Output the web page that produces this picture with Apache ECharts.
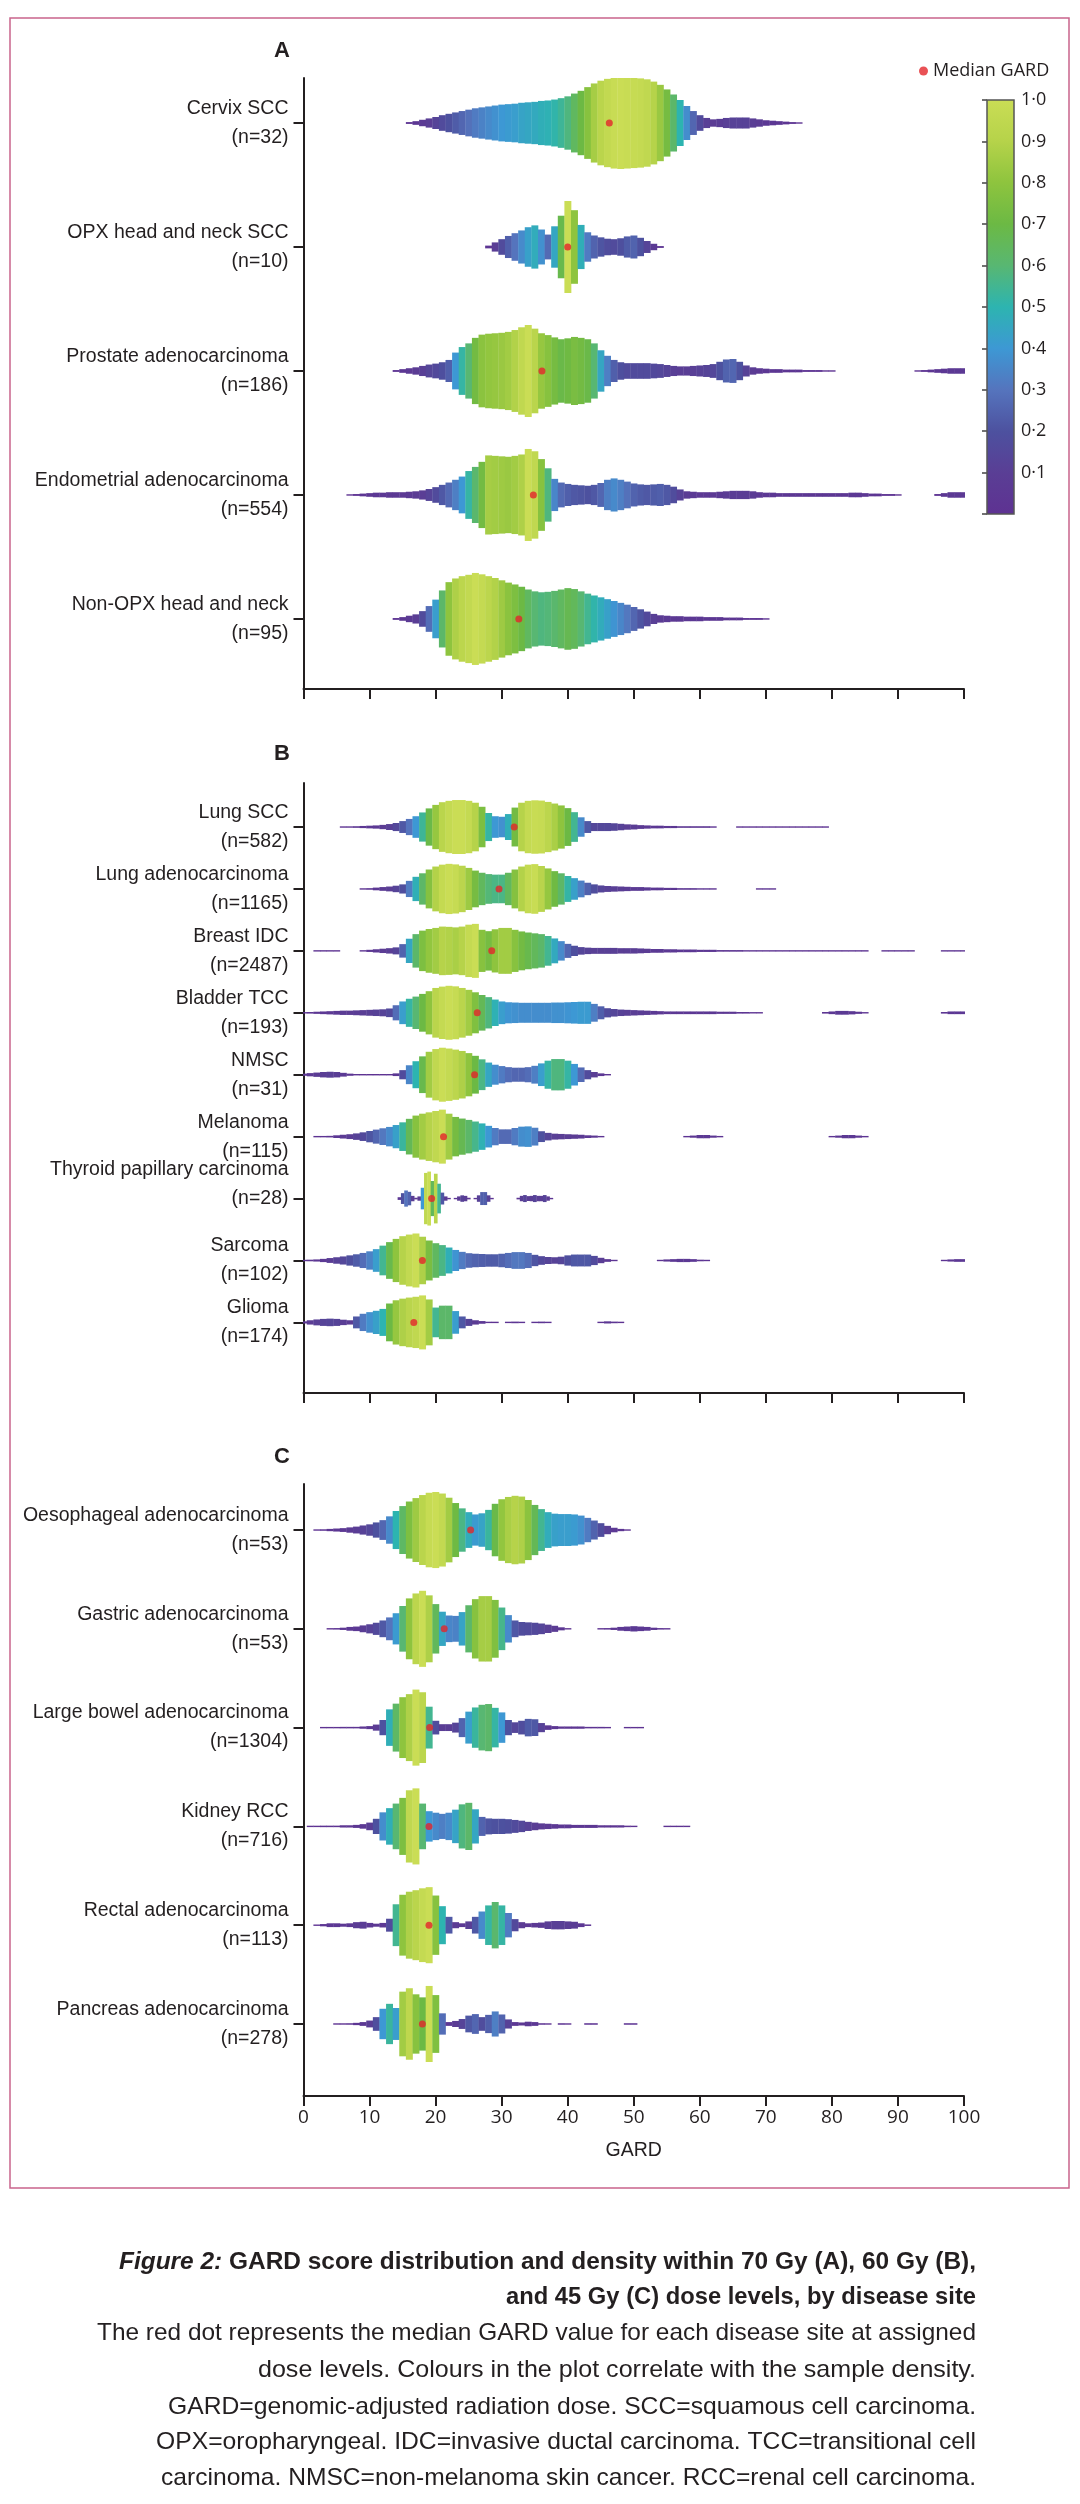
<!DOCTYPE html>
<html>
<head>
<meta charset="utf-8">
<script src="https://cdn.jsdelivr.net/npm/echarts@6/dist/echarts.min.js"></script>
<style>html,body{margin:0;padding:0;background:#fff;}#chart{width:1080px;height:2504px;}</style>
</head>
<body>
<div id="chart"></div>
<script>
// ---------------- DATA ----------------
const xTicks = [0, 10, 20, 30, 40, 50, 60, 70, 80, 90, 100];
const colorbarTicks = [0.1, 0.2, 0.3, 0.4, 0.5, 0.6, 0.7, 0.8, 0.9, 1.0];

const namesA = ['Cervix SCC', 'OPX head and neck SCC', 'Prostate adenocarcinoma', 'Endometrial adenocarcinoma', 'Non-OPX head and neck'];
const countsA = [32, 10, 186, 554, 95];
const mediansA = [46.3, 40.0, 36.1, 34.8, 32.6];

const namesB = ['Lung SCC', 'Lung adenocarcinoma', 'Breast IDC', 'Bladder TCC', 'NMSC', 'Melanoma', 'Thyroid papillary carcinoma', 'Sarcoma', 'Glioma'];
const countsB = [582, 1165, 2487, 193, 31, 115, 28, 102, 174];
const mediansB = [31.9, 29.6, 28.5, 26.3, 25.9, 21.2, 19.4, 18.0, 16.7];

const namesC = ['Oesophageal adenocarcinoma', 'Gastric adenocarcinoma', 'Large bowel adenocarcinoma', 'Kidney RCC', 'Rectal adenocarcinoma', 'Pancreas adenocarcinoma'];
const countsC = [53, 53, 1304, 716, 113, 278];
const mediansC = [25.3, 21.3, 19.1, 19.0, 19.0, 18.0];

// Density profiles: segments of [first GARD value, relative widths at consecutive GARD steps]
const cervixSCC = [[16, [0.02,0.04,0.07,0.10,0.13,0.17,0.20,0.23,0.26,0.29,0.32,0.34,0.36,0.38,0.40,0.41,0.42,0.44,0.45,0.46,0.48,0.49,0.51,0.54,0.58,0.64,0.70,0.78,0.86,0.92,0.96,0.99,1.0,0.99,0.98,0.97,0.95,0.90,0.83,0.73,0.62,0.50,0.37,0.26,0.17,0.11,0.08,0.09,0.11,0.12,0.12,0.12,0.10,0.08,0.06,0.05,0.04,0.03,0.02,0.01]]];
const opxSCC = [[28, [0.03,0.10,0.17,0.24,0.30,0.36,0.43,0.47,0.38,0.27,0.45,0.68,1.0,0.80,0.48,0.32,0.25,0.21,0.18,0.17,0.19,0.23,0.25,0.20,0.13,0.07,0.02]]];
const prostate = [[14, [0.02,0.04,0.06,0.08,0.11,0.14,0.16,0.19,0.24,0.40,0.52,0.60,0.72,0.79,0.81,0.82,0.83,0.85,0.89,0.95,1.0,0.92,0.82,0.78,0.73,0.69,0.71,0.74,0.72,0.69,0.60,0.45,0.33,0.24,0.19,0.17,0.17,0.17,0.17,0.16,0.15,0.13,0.11,0.10,0.10,0.11,0.12,0.13,0.15,0.20,0.25,0.26,0.20,0.12,0.08,0.06,0.05,0.04,0.04,0.03,0.03,0.03,0.02,0.02,0.02,0.01,0.01]],
                  [93, [0.01,0.02,0.03,0.04,0.05,0.06,0.06,0.06]]];
const endometrial = [[7, [0.01,0.02,0.03,0.04,0.05,0.05,0.06,0.06,0.06,0.07,0.08,0.10,0.13,0.17,0.22,0.27,0.33,0.40,0.52,0.61,0.72,0.86,0.85,0.84,0.83,0.85,0.88,1.0,0.95,0.78,0.58,0.35,0.27,0.24,0.22,0.21,0.20,0.22,0.26,0.33,0.36,0.33,0.29,0.25,0.23,0.22,0.23,0.24,0.22,0.18,0.12,0.08,0.07,0.06,0.06,0.06,0.07,0.08,0.09,0.09,0.09,0.08,0.06,0.05,0.05,0.04,0.04,0.04,0.04,0.04,0.04,0.04,0.04,0.04,0.04,0.04,0.05,0.05,0.04,0.03,0.03,0.02,0.02,0.01]],
                     [96, [0.02,0.04,0.06,0.06,0.06]]];
const nonOpx = [[14, [0.02,0.04,0.07,0.10,0.17,0.28,0.42,0.62,0.80,0.88,0.93,0.96,1.0,0.97,0.93,0.89,0.84,0.79,0.75,0.70,0.64,0.60,0.58,0.59,0.61,0.64,0.67,0.65,0.60,0.55,0.51,0.47,0.43,0.39,0.35,0.31,0.26,0.21,0.16,0.11,0.08,0.07,0.06,0.06,0.05,0.05,0.05,0.04,0.04,0.04,0.03,0.03,0.03,0.02,0.02,0.02,0.01]]];

const lungSCC = [[6, [0.01,0.02,0.03,0.04,0.05,0.06,0.08,0.11,0.15,0.22,0.30,0.40,0.54,0.69,0.82,0.92,0.97,1.0,1.0,0.97,0.90,0.75,0.52,0.40,0.38,0.48,0.72,0.90,0.97,0.99,0.98,0.93,0.87,0.80,0.70,0.55,0.36,0.22,0.15,0.15,0.15,0.14,0.12,0.10,0.09,0.07,0.06,0.05,0.05,0.04,0.04,0.03,0.03,0.03,0.03,0.03,0.02]],
                 [66, [0.01,0.01,0.01,0.01,0.01,0.01,0.01,0.01,0.01,0.01,0.01,0.01,0.01,0.01]]];
const lungAdeno = [[9, [0.01,0.03,0.05,0.07,0.09,0.12,0.17,0.30,0.45,0.58,0.72,0.83,0.90,0.93,0.91,0.86,0.78,0.68,0.60,0.55,0.53,0.53,0.60,0.72,0.83,0.90,0.92,0.85,0.76,0.66,0.58,0.48,0.40,0.31,0.23,0.17,0.13,0.11,0.10,0.09,0.08,0.07,0.07,0.06,0.05,0.05,0.04,0.04,0.03,0.03,0.03,0.02,0.02,0.01]],
                   [69, [0.01,0.02,0.01]]];
const breastIDC = [[2, [0.01,0.01,0.01,0.01]],
                   [9, [0.02,0.04,0.06,0.08,0.10,0.13,0.25,0.45,0.62,0.75,0.81,0.85,0.90,0.89,0.87,0.90,0.97,1.0,0.78,0.73,0.80,0.85,0.85,0.78,0.72,0.68,0.65,0.62,0.55,0.46,0.36,0.26,0.19,0.14,0.12,0.11,0.11,0.11,0.11,0.10,0.10,0.10,0.09,0.08,0.07,0.07,0.06,0.06,0.05,0.05,0.05,0.04,0.04,0.04,0.03,0.03,0.03,0.03,0.02,0.02,0.02,0.02,0.02,0.02,0.02,0.02,0.02,0.02,0.02,0.02,0.02,0.02,0.02,0.02,0.02,0.02,0.02]],
                   [88, [0.02,0.02,0.02,0.02,0.02]],
                   [97, [0.02,0.02,0.02,0.02]]];
const bladderTCC = [[0, [0.02,0.03,0.04,0.05,0.06,0.07,0.08,0.08,0.09,0.10,0.11,0.12,0.13,0.16,0.28,0.42,0.52,0.60,0.70,0.80,0.92,0.97,1.0,0.98,0.92,0.85,0.76,0.66,0.58,0.49,0.42,0.39,0.38,0.37,0.37,0.37,0.37,0.37,0.38,0.38,0.39,0.40,0.41,0.41,0.33,0.24,0.17,0.14,0.12,0.11,0.10,0.09,0.08,0.07,0.06,0.05,0.05,0.05,0.05,0.05,0.05,0.05,0.05,0.04,0.04,0.04,0.03,0.03,0.02,0.01]],
                    [79, [0.03,0.05,0.07,0.07,0.06,0.04,0.02]],
                    [97, [0.03,0.05,0.05,0.05]]];
const nmsc = [[0, [0.04,0.06,0.08,0.10,0.11,0.10,0.07,0.04,0.02,0.01,0.01,0.01,0.01,0.02,0.05,0.17,0.35,0.50,0.68,0.85,0.95,1.0,0.97,0.93,0.88,0.80,0.70,0.57,0.45,0.37,0.32,0.28,0.26,0.26,0.28,0.33,0.42,0.52,0.58,0.58,0.52,0.40,0.27,0.17,0.10,0.05,0.02]]];
const melanoma = [[2, [0.01,0.02,0.03,0.05,0.07,0.09,0.12,0.16,0.21,0.26,0.31,0.36,0.43,0.53,0.66,0.78,0.85,0.90,0.95,1.0,0.85,0.73,0.67,0.62,0.56,0.49,0.40,0.32,0.27,0.27,0.32,0.37,0.38,0.33,0.20,0.14,0.11,0.10,0.09,0.08,0.07,0.05,0.04,0.02]],
                  [58, [0.02,0.04,0.06,0.06,0.04,0.02]],
                  [80, [0.02,0.04,0.06,0.06,0.04,0.02]]];
const thyroid = [[14.5, [0.05,0.20,0.30,0.25,0.10,0.03,0.08,0.40,0.95,1.0,0.65,0.92,0.55,0.22,0.08,0.02,0,0.02,0.08,0.12,0.10,0.03,0,0.02,0.12,0.24,0.24,0.12,0.02,0,0,0,0,0,0,0,0.03,0.10,0.13,0.09,0.10,0.13,0.10,0.10,0.13,0.08,0.02]]];
const sarcoma = [[0, [0.02,0.03,0.04,0.06,0.09,0.12,0.15,0.19,0.23,0.28,0.34,0.42,0.55,0.68,0.80,0.90,0.96,1.0,0.88,0.74,0.64,0.57,0.48,0.39,0.32,0.27,0.25,0.24,0.23,0.23,0.25,0.28,0.31,0.31,0.28,0.21,0.16,0.13,0.12,0.14,0.19,0.22,0.22,0.22,0.17,0.10,0.05,0.02]],
                 [54, [0.02,0.04,0.05,0.06,0.06,0.05,0.03,0.02]],
                 [97, [0.02,0.04,0.05,0.05]]];
const glioma = [[0, [0.04,0.08,0.11,0.13,0.14,0.13,0.10,0.08,0.22,0.32,0.38,0.43,0.50,0.70,0.82,0.88,0.92,0.95,1.0,0.85,0.55,0.62,0.62,0.42,0.22,0.13,0.08,0.05,0.02,0.01]],
                [31, [0.02,0.03,0.02]], [35, [0.02,0.03,0.02]], [45, [0.02,0.04,0.03,0.01]]];

const oesophageal = [[2, [0.01,0.02,0.03,0.04,0.05,0.07,0.09,0.12,0.15,0.20,0.26,0.36,0.50,0.63,0.75,0.84,0.92,0.98,1.0,0.96,0.85,0.71,0.57,0.47,0.41,0.44,0.53,0.69,0.81,0.87,0.90,0.88,0.79,0.66,0.55,0.47,0.43,0.42,0.42,0.41,0.38,0.32,0.25,0.18,0.11,0.06,0.03,0.01]]];
const gastric = [[4, [0.01,0.02,0.03,0.05,0.06,0.09,0.12,0.16,0.22,0.30,0.41,0.60,0.80,0.93,1.0,0.88,0.65,0.45,0.35,0.34,0.44,0.62,0.78,0.86,0.86,0.76,0.56,0.36,0.22,0.18,0.17,0.16,0.14,0.11,0.08,0.04,0.01]],
                 [45, [0.01,0.02,0.03,0.05,0.06,0.07,0.06,0.05,0.03,0.02,0.01]]];
const largeBowel = [[3, [0.01,0.01,0.01,0.02,0.02,0.02,0.03,0.04,0.08,0.20,0.48,0.63,0.80,0.88,1.0,0.93,0.55,0.18,0.09,0.09,0.13,0.25,0.42,0.53,0.60,0.62,0.52,0.40,0.20,0.14,0.18,0.23,0.22,0.12,0.06,0.04,0.03,0.03,0.03,0.03,0.02,0.02,0.02,0.01]],
                    [49, [0.01,0.01,0.01]]];
const kidney = [[1, [0.01,0.01,0.02,0.02,0.02,0.03,0.03,0.04,0.06,0.10,0.20,0.37,0.48,0.60,0.75,0.95,1.0,0.60,0.40,0.36,0.33,0.36,0.44,0.58,0.62,0.45,0.25,0.21,0.20,0.20,0.19,0.17,0.15,0.12,0.10,0.08,0.07,0.06,0.05,0.05,0.04,0.04,0.04,0.04,0.03,0.03,0.03,0.03,0.02,0.01]],
                [55, [0.01,0.01,0.01,0.01]]];
const rectal = [[2, [0.01,0.03,0.05,0.05,0.04,0.05,0.08,0.09,0.06,0.04,0.06,0.17,0.55,0.80,0.88,0.92,0.97,1.0,0.78,0.50,0.22,0.08,0.05,0.10,0.22,0.36,0.52,0.61,0.52,0.32,0.16,0.08,0.05,0.06,0.07,0.10,0.11,0.11,0.10,0.09,0.05,0.02]]];
const pancreas = [[5, [0.01,0.01,0.02,0.03,0.05,0.09,0.18,0.40,0.53,0.42,0.85,0.94,0.78,0.70,1.0,0.76,0.28,0.05,0.08,0.13,0.22,0.26,0.18,0.24,0.33,0.25,0.12,0.05,0.04,0.06,0.05,0.02,0.01]],
                  [39, [0.02,0.01]], [43, [0.02,0.02]], [49, [0.02,0.02]]];

const violinsA = [cervixSCC, opxSCC, prostate, endometrial, nonOpx];
const violinsB = [lungSCC, lungAdeno, breastIDC, bladderTCC, nmsc, melanoma, thyroid, sarcoma, glioma];
const violinsC = [oesophageal, gastric, largeBowel, kidney, rectal, pancreas];
const stepsB = [1, 1, 1, 1, 1, 1, 0.5, 1, 1];

const captionTitle = ['Figure 2:', ' GARD score distribution and density within 70 Gy (A), 60 Gy (B),', 'and 45 Gy (C) dose levels, by disease site'];
const captionLines = [
  'The red dot represents the median GARD value for each disease site at assigned',
  'dose levels. Colours in the plot correlate with the sample density.',
  'GARD=genomic-adjusted radiation dose. SCC=squamous cell carcinoma.',
  'OPX=oropharyngeal. IDC=invasive ductal carcinoma. TCC=transitional cell',
  'carcinoma. NMSC=non-melanoma skin cancer. RCC=renal cell carcinoma.'
];

// ---------------- STYLE / LAYOUT ----------------
const palette = ['#5e3292','#5a3e95','#4d519f','#5574bd','#3d98d4','#2db4b0','#58b772','#6cb944','#8ec43e','#b6d34a','#cadd55'];
const INK = '#231f20';
const SANS = "'Liberation Sans',Arial,sans-serif";
const REG = "'Open Sans','Liberation Sans',Arial,sans-serif";
const CAP_RIGHT = 976;
const captionTitleY = [2262, 2297];
const captionTitleW = [857, 470];
const captionY = [2333, 2370, 2407, 2442, 2478];
const captionW = [879, 718, 808, 820, 815];

const measureCtx = document.createElement('canvas').getContext('2d');
function textW(font, t) { measureCtx.font = font; return measureCtx.measureText(t).width; }
function fitScale(w, target) { return Math.max(0.75, Math.min(1.15, target / w)); }

function buildItems(violins, steps) {
  const out = [];
  violins.forEach((segs, ci) => {
    const step = steps ? steps[ci] : 1;
    let mx = 0;
    segs.forEach(s => s[1].forEach(v => { if (v > mx) mx = v; }));
    segs.forEach(s => {
      s[1].forEach((v, k) => {
        if (v > 0) out.push([s[0] + k * step, ci, v, v / mx, step]);
      });
    });
  });
  return out;
}

function violinRender(amp) {
  return function (params, api) {
    const g = api.value(0), c = api.value(1), w = api.value(2), bw = api.value(4);
    const p0 = api.coord([g - bw / 2, c - w * amp]);
    const p1 = api.coord([g + bw / 2, c + w * amp]);
    let y0 = Math.min(p0[1], p1[1]), h = Math.abs(p1[1] - p0[1]);
    if (h < 1.4) { y0 = (p0[1] + p1[1]) / 2 - 0.7; h = 1.4; }
    return {
      type: 'rect',
      shape: { x: p0[0], y: y0, width: p1[0] - p0[0] + 0.35, height: h },
      style: { fill: api.visual('color') }
    };
  };
}

function catAxis(gi, names, counts, min, max, raised) {
  const idx = names.map((_, i) => i);
  return {
    type: 'value', gridIndex: gi, inverse: true, min: min, max: max,
    axisLine: { show: true, lineStyle: { color: INK, width: 2 } },
    axisTick: { show: true, customValues: idx, length: 10, lineStyle: { color: INK, width: 2 } },
    axisLabel: {
      customValues: idx, margin: 15, color: INK, fontFamily: SANS, fontSize: 19.5, lineHeight: 29, align: 'right',
      formatter: function (v) {
        const i = Math.round(v);
        let s = names[i] + '\n(n=' + counts[i] + ')';
        if (raised && raised.indexOf(names[i]) >= 0) s += '\n ';
        return s;
      }
    },
    splitLine: { show: false }
  };
}

function gardAxis(gi, showLabels) {
  const ax = {
    type: 'value', gridIndex: gi, min: xTicks[0], max: xTicks[xTicks.length - 1], interval: xTicks[1] - xTicks[0],
    axisLine: { show: true, onZero: false, lineStyle: { color: INK, width: 2 } },
    axisTick: { show: true, length: 10, lineStyle: { color: INK, width: 2 } },
    axisLabel: { show: showLabels, margin: 12, color: INK, fontFamily: REG, fontSize: 19 },
    splitLine: { show: false }
  };
  if (showLabels) {
    ax.name = 'GARD'; ax.nameLocation = 'middle'; ax.nameGap = 45;
    ax.nameTextStyle = { fontFamily: SANS, fontSize: 19.5, color: INK };
  }
  return ax;
}

function medianItems(meds) { return meds.map((m, i) => [m, i]); }

const chart = echarts.init(document.getElementById('chart'), null, { renderer: 'canvas' });

const graphics = [
  { type: 'rect', shape: { x: 10, y: 18, width: 1059, height: 2170 }, style: { fill: 'none', stroke: '#c9648c', lineWidth: 1.5 }, z: 0 },
  { type: 'text', x: 282, y: 51, style: { text: 'A', font: 'bold 22px ' + SANS, fill: INK, textAlign: 'center', textVerticalAlign: 'middle' } },
  { type: 'text', x: 282, y: 754, style: { text: 'B', font: 'bold 22px ' + SANS, fill: INK, textAlign: 'center', textVerticalAlign: 'middle' } },
  { type: 'text', x: 282, y: 1457, style: { text: 'C', font: 'bold 22px ' + SANS, fill: INK, textAlign: 'center', textVerticalAlign: 'middle' } }
];

// caption title (bold, "Figure 2:" italic)
const fIt = 'italic bold 24px ' + SANS, fBd = 'bold 24px ' + SANS, fRg = '24px ' + SANS;
const t1w = textW(fIt, captionTitle[0]) + textW(fBd, captionTitle[1]);
graphics.push({ type: 'text', x: CAP_RIGHT, y: captionTitleY[0], scaleX: fitScale(t1w, captionTitleW[0]),
  style: { text: '{it|' + captionTitle[0] + '}{bd|' + captionTitle[1] + '}',
    rich: { it: { fontFamily: SANS, fontSize: 24, fontWeight: 'bold', fontStyle: 'italic', fill: INK },
            bd: { fontFamily: SANS, fontSize: 24, fontWeight: 'bold', fill: INK } },
    fill: INK, textAlign: 'right', textVerticalAlign: 'middle' } });
graphics.push({ type: 'text', x: CAP_RIGHT, y: captionTitleY[1], scaleX: fitScale(textW(fBd, captionTitle[2]), captionTitleW[1]),
  style: { text: captionTitle[2], font: fBd, fill: INK, textAlign: 'right', textVerticalAlign: 'middle' } });
captionLines.forEach((t, i) => {
  graphics.push({ type: 'text', x: CAP_RIGHT, y: captionY[i], scaleX: fitScale(textW(fRg, t), captionW[i]),
    style: { text: t, font: fRg, fill: INK, textAlign: 'right', textVerticalAlign: 'middle' } });
});

const option = {
  backgroundColor: '#ffffff',
  animation: false,
  grid: [
    { left: 303.5, top: 78, width: 660.5, height: 611, outerBoundsMode: 'none' },
    { left: 303.5, top: 783, width: 660.5, height: 610, outerBoundsMode: 'none' },
    { left: 303.5, top: 1484, width: 660.5, height: 612, outerBoundsMode: 'none' },
    { left: 987, top: 100, width: 27, height: 414, outerBoundsMode: 'none' }
  ],
  xAxis: [
    gardAxis(0, false), gardAxis(1, false), gardAxis(2, true),
    { type: 'value', gridIndex: 3, min: 0, max: 1, show: false }
  ],
  yAxis: [
    catAxis(0, namesA, countsA, -0.363, 4.565),
    catAxis(1, namesB, countsB, -0.711, 9.14, ['Thyroid papillary carcinoma']),
    catAxis(2, namesC, countsC, -0.466, 5.729),
    {
      type: 'value', gridIndex: 3, min: 0, max: 1, interval: 0.1, position: 'right',
      axisLine: { show: false },
      axisTick: { show: true, inside: true, length: 5, lineStyle: { color: '#444', width: 1.5 } },
      axisLabel: { margin: 7, color: INK, fontFamily: REG, fontSize: 18,
        formatter: v => (colorbarTicks.some(t => Math.abs(t - v) < 1e-6) ? v.toFixed(1).replace('.', '\u00B7') : '') },
      splitLine: { show: false }
    }
  ],
  visualMap: {
    type: 'continuous', show: false, min: 0, max: 1, dimension: 3, seriesIndex: [0, 1, 2],
    inRange: { color: palette }
  },
  legend: {
    data: [{ name: 'Median GARD', icon: 'circle' }],
    left: 914, top: 57, itemWidth: 9, itemHeight: 9,
    textStyle: { fontFamily: REG, fontSize: 18, color: INK }
  },
  graphic: graphics,
  series: [
    { type: 'custom', xAxisIndex: 0, yAxisIndex: 0, clip: true, renderItem: violinRender(0.371), data: buildItems(violinsA), z: 2 },
    { type: 'custom', xAxisIndex: 1, yAxisIndex: 1, clip: true, renderItem: violinRender(0.436), data: buildItems(violinsB, stepsB), z: 2 },
    { type: 'custom', xAxisIndex: 2, yAxisIndex: 2, clip: true, renderItem: violinRender(0.385), data: buildItems(violinsC), z: 2 },
    { name: 'Median GARD', type: 'scatter', xAxisIndex: 0, yAxisIndex: 0, symbolSize: 7, itemStyle: { color: '#e3262b' }, data: medianItems(mediansA), z: 5 },
    { name: 'Median GARD', type: 'scatter', xAxisIndex: 1, yAxisIndex: 1, symbolSize: 7, itemStyle: { color: '#e3262b' }, data: medianItems(mediansB), z: 5 },
    { name: 'Median GARD', type: 'scatter', xAxisIndex: 2, yAxisIndex: 2, symbolSize: 7, itemStyle: { color: '#e3262b' }, data: medianItems(mediansC), z: 5 },
    { type: 'custom', xAxisIndex: 3, yAxisIndex: 3, data: [[0, 0]], silent: true,
      renderItem: function (params, api) {
        const p0 = api.coord([0, 0]), p1 = api.coord([1, 1]);
        const stops = palette.map((c, i) => ({ offset: i / (palette.length - 1), color: c }));
        return { type: 'rect',
          shape: { x: p0[0], y: p1[1], width: p1[0] - p0[0], height: p0[1] - p1[1] },
          style: { fill: new echarts.graphic.LinearGradient(0, 1, 0, 0, stops), stroke: '#555', lineWidth: 1.5 } };
      } }
  ]
};
chart.setOption(option);
</script>
</body>
</html>
